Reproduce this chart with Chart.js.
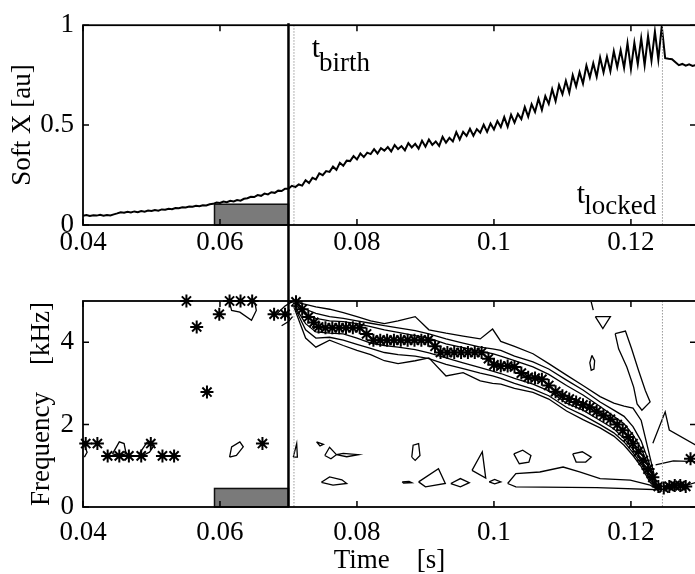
<!DOCTYPE html>
<html>
<head>
<meta charset="utf-8">
<script src="https://cdn.jsdelivr.net/npm/chart.js@4.4.1/dist/chart.umd.min.js"></script>
<style>
  html, body { margin: 0; padding: 0; background: #fff; overflow: hidden; }
  #wrap { position: relative; width: 695px; height: 574px; overflow: hidden; }
  .box { position: absolute; left: 0; width: 760px; }
  #topBox { top: 0; height: 258px; }
  #botBox { top: 258px; height: 316px; }
</style>
</head>
<body>
<div id="wrap">
  <div class="box" id="topBox"><canvas id="softxChart"></canvas></div>
  <div class="box" id="botBox"><canvas id="freqChart"></canvas></div>
</div>
<script>
const FONT = "'Liberation Serif', 'Times New Roman', serif";

// axes
const xMin = 0.04;
const xMax = 0.1295;
const xTicks = [0.04, 0.06, 0.08, 0.1, 0.12];
const xTickLabels = ["0.04", "0.06", "0.08", "0.1", "0.12"];
const softTicks = [0, 0.5, 1];
const softTickLabels = ["0", "0.5", "1"];
const freqTicks = [0, 2, 4];
const freqTickLabels = ["0", "2", "4"];

// event times and the shaded window
const tBirth = 0.07;
const tBirthDots = 0.0708;
const tLocked = 0.1246;
const shadeWindow = [0.0592, 0.07];
const shadeSoftTop = 0.104;
const shadeFreqTop = 0.45;

// soft X signal, sampled every 0.5 ms from 0.04 s
const sxStart = 0.04;
const sxStep = 0.0005;
const sxValues = [
  0.046, 0.050, 0.045, 0.049, 0.047, 0.051, 0.046, 0.050, 0.048, 0.053,
  0.058, 0.064, 0.061, 0.066, 0.063, 0.068, 0.064, 0.070, 0.067, 0.072,
  0.070, 0.075, 0.072, 0.078, 0.076, 0.081, 0.079, 0.085, 0.084, 0.089,
  0.088, 0.093, 0.091, 0.096, 0.094, 0.099, 0.098, 0.104, 0.106, 0.112,
  0.110, 0.117, 0.114, 0.121, 0.118, 0.125, 0.122, 0.131, 0.134, 0.141,
  0.140, 0.150, 0.146, 0.157, 0.153, 0.164, 0.161, 0.172, 0.170, 0.182,
  0.182, 0.196, 0.190, 0.203, 0.197, 0.224, 0.210, 0.236, 0.228, 0.258,
  0.249, 0.270, 0.266, 0.292, 0.276, 0.311, 0.296, 0.322, 0.320, 0.345,
  0.328, 0.358, 0.340, 0.362, 0.355, 0.380, 0.358, 0.384, 0.372, 0.390,
  0.368, 0.400, 0.380, 0.395, 0.374, 0.410, 0.388, 0.406, 0.382, 0.422,
  0.392, 0.428, 0.401, 0.418, 0.396, 0.441, 0.412, 0.436, 0.418, 0.465,
  0.428, 0.466, 0.446, 0.482, 0.447, 0.480, 0.462, 0.502, 0.466, 0.508,
  0.478, 0.520, 0.490, 0.540, 0.492, 0.552, 0.512, 0.556, 0.530, 0.590,
  0.542, 0.605, 0.566, 0.632, 0.576, 0.645, 0.606, 0.680, 0.620, 0.700,
  0.655, 0.722, 0.662, 0.750, 0.694, 0.765, 0.708, 0.798, 0.738, 0.810,
  0.742, 0.838, 0.764, 0.842, 0.770, 0.870, 0.790, 0.875, 0.786, 0.910,
  0.780, 0.912, 0.805, 0.935, 0.800, 0.945, 0.822, 0.968, 0.828, 0.995,
  0.835, 0.832, 0.830, 0.815, 0.800, 0.806, 0.797, 0.804, 0.796, 0.801,
];

// peak frequency markers (*)
const starTimes = [
  0.0404, 0.0421, 0.0436, 0.0453, 0.0467, 0.0485, 0.0499, 0.0516, 0.0533,
  0.0551, 0.0566, 0.0581, 0.0599, 0.0614, 0.0630, 0.0647, 0.0662, 0.0679, 0.0695,
  0.0711, 0.0720, 0.0729, 0.0737, 0.0744, 0.0754, 0.0764, 0.0774, 0.0784, 0.0794,
  0.0804, 0.0814, 0.0824, 0.0834, 0.0844, 0.0854, 0.0864, 0.0874, 0.0884, 0.0894,
  0.0904, 0.0914, 0.0922, 0.0932, 0.0942, 0.0952, 0.0962, 0.0972, 0.0982, 0.0992,
  0.1000, 0.1010, 0.1020, 0.1030, 0.1040, 0.1050, 0.1060, 0.1070, 0.1080, 0.1090,
  0.1100, 0.1110, 0.1120, 0.1130, 0.1140, 0.1150, 0.1160, 0.1170, 0.1180, 0.1188,
  0.1196, 0.1203, 0.1211, 0.1218, 0.1225, 0.1232, 0.1240, 0.1248, 0.1256, 0.1264,
  0.1272, 0.1280, 0.1287,
];
const starFreqs = [
  1.54, 1.54, 1.24, 1.24, 1.24, 1.24, 1.54, 1.24, 1.24,
  5.00, 4.37, 2.79, 4.68, 5.00, 5.00, 5.00, 1.54, 4.68, 4.68,
  4.98, 4.80, 4.61, 4.48, 4.37, 4.35, 4.35, 4.35, 4.35, 4.35,
  4.35, 4.20, 4.05, 4.05, 4.05, 4.05, 4.05, 4.05, 4.05, 4.05,
  4.05, 3.90, 3.75, 3.75, 3.75, 3.75, 3.75, 3.75, 3.75, 3.60,
  3.45, 3.42, 3.42, 3.40, 3.25, 3.15, 3.13, 3.10, 2.95, 2.80,
  2.70, 2.62, 2.55, 2.48, 2.42, 2.32, 2.22, 2.13, 2.00, 1.86,
  1.70, 1.54, 1.35, 1.13, 0.92, 0.72, 0.50, 0.46, 0.50, 0.52,
  0.52, 0.50, 1.17,
];

// main contour band: three nested levels, upper and lower edges
const bandT = [0.0708, 0.0725, 0.0740, 0.0760, 0.0780, 0.0800, 0.0820, 0.0840, 0.0860, 0.0885,
  0.0905, 0.0930, 0.0955, 0.0980, 0.0998, 0.1010, 0.1030, 0.1057, 0.1080, 0.1106,
  0.1130, 0.1155, 0.1175, 0.1190, 0.1203, 0.1215, 0.1228, 0.1238];
const bandU3 = [4.98, 4.92, 4.86, 4.80, 4.72, 4.62, 4.52, 4.45, 4.52, 4.62,
  4.30, 4.22, 4.15, 4.08, 4.32, 4.02, 3.90, 3.72, 3.48, 3.20,
  2.95, 2.68, 2.52, 2.45, 2.40, 2.10, 1.20, 0.50];
const bandU2 = [4.96, 4.80, 4.70, 4.62, 4.58, 4.52, 4.46, 4.40, 4.35, 4.28,
  4.20, 4.08, 3.98, 3.88, 3.84, 3.80, 3.66, 3.52, 3.35, 3.08,
  2.84, 2.55, 2.35, 2.20, 1.95, 1.60, 1.00, 0.48];
const bandU1 = [4.94, 4.68, 4.58, 4.52, 4.50, 4.45, 4.38, 4.30, 4.24, 4.16,
  4.10, 3.96, 3.87, 3.78, 3.72, 3.66, 3.55, 3.40, 3.22, 2.95,
  2.72, 2.44, 2.20, 2.02, 1.75, 1.42, 0.90, 0.46];
const bandL1 = [4.90, 4.45, 4.25, 4.22, 4.20, 4.10, 3.98, 3.92, 3.88, 3.82,
  3.74, 3.62, 3.50, 3.38, 3.30, 3.24, 3.12, 2.98, 2.82, 2.52,
  2.35, 2.10, 1.90, 1.66, 1.40, 1.12, 0.72, 0.44];
const bandL2 = [4.88, 4.30, 4.10, 4.12, 4.05, 3.95, 3.85, 3.75, 3.70, 3.66,
  3.60, 3.46, 3.36, 3.25, 3.18, 3.12, 3.00, 2.86, 2.70, 2.42,
  2.23, 2.00, 1.80, 1.58, 1.32, 1.05, 0.66, 0.43];
const bandL3 = [4.85, 4.10, 3.88, 4.05, 3.92, 3.80, 3.70, 3.55, 3.48, 3.55,
  3.62, 3.18, 3.26, 3.06, 3.00, 2.98, 2.88, 2.78, 2.62, 2.33,
  2.12, 1.92, 1.72, 1.50, 1.25, 0.98, 0.60, 0.42];

// other contour pieces, [time, kHz] pairs
const contourPieces = [
  // tall branch above the band near lock
  [[0.1177, 4.21], [0.1192, 4.27], [0.1201, 3.84], [0.1211, 3.32], [0.1221, 2.83], [0.1228, 2.55],
   [0.1216, 2.35], [0.1209, 2.50], [0.1204, 2.91], [0.1194, 3.40], [0.1182, 3.84], [0.1177, 4.21]],
  [[0.1148, 4.62], [0.1170, 4.62], [0.1159, 4.33], [0.1148, 4.62]],
  [[0.1142, 4.98], [0.1145, 4.78]],
  [[0.1143, 3.68], [0.1147, 3.55], [0.1146, 3.35], [0.1142, 3.32], [0.1140, 3.50], [0.1143, 3.68]],
  // right of lock
  [[0.1232, 1.55], [0.1250, 2.31], [0.1256, 1.87], [0.1299, 1.46]],
  [[0.1236, 1.02], [0.1262, 1.12], [0.1299, 1.10]],
  [[0.1240, 0.42], [0.1270, 0.47], [0.1299, 0.62]],
  // low frequency ridge
  [[0.1020, 0.57], [0.1032, 0.81], [0.1067, 0.85], [0.1101, 0.97], [0.1125, 0.85], [0.1155, 0.69],
   [0.1199, 0.65], [0.1228, 0.53], [0.1240, 0.42], [0.1150, 0.47], [0.1032, 0.49], [0.1020, 0.57]],
  // small islands
  [[0.0707, 1.21], [0.0712, 1.54], [0.0713, 1.21], [0.0707, 1.21]],
  [[0.0741, 1.58], [0.0751, 1.52], [0.0746, 1.48], [0.0741, 1.58]],
  [[0.0753, 1.25], [0.0760, 1.45], [0.0770, 1.27], [0.0762, 1.17], [0.0753, 1.25]],
  [[0.0770, 1.27], [0.0780, 1.30], [0.0802, 1.27], [0.0785, 1.22], [0.0770, 1.27]],
  [[0.0748, 0.60], [0.0760, 0.73], [0.0778, 0.66], [0.0785, 0.57], [0.0765, 0.53], [0.0748, 0.60]],
  [[0.0880, 1.21], [0.0882, 1.50], [0.0890, 1.54], [0.0892, 1.25], [0.0885, 1.13], [0.0880, 1.21]],
  [[0.0866, 0.61], [0.0876, 0.62], [0.0880, 0.59], [0.0868, 0.58], [0.0866, 0.61]],
  [[0.0890, 0.61], [0.0919, 0.93], [0.0929, 0.57], [0.0900, 0.49], [0.0890, 0.61]],
  [[0.0937, 0.57], [0.0951, 0.69], [0.0964, 0.59], [0.0951, 0.49], [0.0937, 0.57]],
  [[0.0968, 0.89], [0.0983, 1.34], [0.0988, 0.70], [0.0968, 0.89]],
  [[0.0993, 0.61], [0.1001, 0.67], [0.1010, 0.61], [0.1001, 0.56], [0.0993, 0.61]],
  [[0.1029, 1.29], [0.1042, 1.38], [0.1054, 1.25], [0.1051, 1.09], [0.1037, 1.05], [0.1029, 1.29]],
  [[0.1115, 1.29], [0.1129, 1.34], [0.1142, 1.21], [0.1134, 1.09], [0.1120, 1.09], [0.1115, 1.29]],
  [[0.0402, 1.50], [0.0406, 1.33], [0.0402, 1.21]],
  [[0.0443, 1.29], [0.0453, 1.58], [0.0460, 1.54], [0.0463, 1.29], [0.0453, 1.25], [0.0443, 1.29]],
  [[0.0482, 1.29], [0.0494, 1.58], [0.0504, 1.50], [0.0497, 1.33], [0.0487, 1.25], [0.0482, 1.29]],
  [[0.0614, 1.21], [0.0617, 1.46], [0.0629, 1.58], [0.0634, 1.46], [0.0624, 1.25], [0.0614, 1.21]],
  [[0.0614, 4.96], [0.0617, 4.77], [0.0629, 4.73], [0.0646, 4.53], [0.0653, 4.77], [0.0651, 4.96]],
  [[0.0683, 4.69], [0.0695, 4.88], [0.0705, 4.98]],
  [[0.0690, 4.40], [0.0700, 4.50], [0.0706, 4.62]],
];

const toPoints = (pairs) => pairs.map(([t, f]) => ({ x: t, y: f }));

const bandLoop = (upper, lower) => {
  const pts = bandT.map((t, i) => ({ x: t, y: upper[i] }));
  for (let i = bandT.length - 1; i >= 0; i--) pts.push({ x: bandT[i], y: lower[i] });
  pts.push(pts[0]);
  return pts;
};

const contourSet = (data) => ({
  data,
  showLine: true,
  borderColor: "#000",
  borderWidth: 1.3,
  pointRadius: 0,
  fill: false,
  tension: 0,
});

const fixedTicks = (values) => (scale) => {
  scale.ticks = values.map((value) => ({ value }));
};

const drawFrame = (chart, yTicks) => {
  const { ctx, chartArea: a, scales: { x, y } } = chart;
  ctx.save();
  ctx.strokeStyle = "#000";
  ctx.lineWidth = 1.8;
  ctx.strokeRect(a.left, a.top, a.right - a.left, a.bottom - a.top);
  ctx.lineWidth = 1.5;
  ctx.beginPath();
  xTicks.forEach((v) => {
    const px = x.getPixelForValue(v);
    ctx.moveTo(px, a.bottom);
    ctx.lineTo(px, a.bottom - 6);
    ctx.moveTo(px, a.top);
    ctx.lineTo(px, a.top + 6);
  });
  yTicks.forEach((v) => {
    const py = y.getPixelForValue(v);
    ctx.moveTo(a.left, py);
    ctx.lineTo(a.left + 6, py);
    ctx.moveTo(a.right, py);
    ctx.lineTo(a.right - 6, py);
  });
  ctx.stroke();
  ctx.restore();
};

const drawShade = (chart, top) => {
  const { ctx, scales: { x, y } } = chart;
  const x0 = x.getPixelForValue(shadeWindow[0]);
  const x1 = x.getPixelForValue(shadeWindow[1]);
  const y0 = y.getPixelForValue(top);
  const y1 = y.getPixelForValue(0);
  ctx.save();
  ctx.fillStyle = "#7a7a7a";
  ctx.fillRect(x0, y0, x1 - x0, y1 - y0);
  ctx.strokeStyle = "#111";
  ctx.lineWidth = 1.5;
  ctx.strokeRect(x0, y0, x1 - x0, y1 - y0);
  ctx.restore();
};

const drawEventLines = (chart, fromY, toY) => {
  const { ctx, chartArea: a, scales: { x } } = chart;
  ctx.save();
  ctx.strokeStyle = "#9a9a9a";
  ctx.lineWidth = 1;
  ctx.setLineDash([1.5, 1.5]);
  [tBirthDots, tLocked].forEach((t) => {
    const px = x.getPixelForValue(t);
    ctx.beginPath();
    ctx.moveTo(px, a.top);
    ctx.lineTo(px, a.bottom);
    ctx.stroke();
  });
  ctx.setLineDash([]);
  ctx.strokeStyle = "#000";
  ctx.lineWidth = 2.5;
  const bx = x.getPixelForValue(tBirth);
  ctx.beginPath();
  ctx.moveTo(bx, fromY);
  ctx.lineTo(bx, toY);
  ctx.stroke();
  ctx.restore();
};

// t_birth / t_locked labels: time, main baseline value, subscript baseline value
const eventLabels = [
  { main: "t", sub: "birth", t: 0.0734, v: 0.841, subV: 0.772 },
  { main: "t", sub: "locked", t: 0.1121, v: 0.112, subV: 0.056 },
];

const drawEventLabels = (chart) => {
  const { ctx, scales: { x, y } } = chart;
  ctx.save();
  ctx.fillStyle = "#000";
  ctx.textBaseline = "alphabetic";
  eventLabels.forEach((l) => {
    const px = x.getPixelForValue(l.t);
    ctx.font = `30px ${FONT}`;
    ctx.fillText(l.main, px, y.getPixelForValue(l.v));
    const w = ctx.measureText(l.main).width;
    ctx.font = `27px ${FONT}`;
    ctx.fillText(l.sub, px + w - 1, y.getPixelForValue(l.subV));
  });
  ctx.restore();
};

const tickFont = { family: FONT, size: 27 };
const titleFont = { family: FONT, size: 27, lineHeight: 1 };

const xScale = (padding, height, title) => ({
  type: "linear",
  min: xMin,
  max: xMax,
  afterBuildTicks: fixedTicks(xTicks),
  afterFit: (s) => { s.height = height; },
  grid: { display: false, drawTicks: false },
  border: { display: false },
  ticks: {
    autoSkip: false,
    maxRotation: 0,
    padding,
    color: "#000",
    font: tickFont,
    callback: (v, i) => xTickLabels[i],
  },
  title: title
    ? { display: true, text: title, color: "#000", font: titleFont, padding: { top: 0, bottom: 0 } }
    : { display: false },
});

const yScale = (min, max, ticks, labels, title, titlePad) => ({
  type: "linear",
  min,
  max,
  afterBuildTicks: fixedTicks(ticks),
  afterFit: (s) => { s.width = 83; },
  grid: { display: false, drawTicks: false },
  border: { display: false },
  ticks: {
    padding: 9,
    color: "#000",
    font: tickFont,
    callback: (v, i) => labels[i],
  },
  title: { display: true, text: title, color: "#000", font: titleFont, padding: { top: titlePad, bottom: 0 } },
});

const commonOptions = {
  responsive: true,
  maintainAspectRatio: false,
  animation: false,
  events: [],
  plugins: { legend: { display: false }, tooltip: { enabled: false } },
};

new Chart(document.getElementById("softxChart"), {
  type: "scatter",
  data: {
    datasets: [
      {
        data: sxValues.map((v, i) => ({ x: sxStart + i * sxStep, y: v })),
        showLine: true,
        borderColor: "#000",
        borderWidth: 2,
        pointRadius: 0,
        tension: 0,
      },
    ],
  },
  options: {
    ...commonOptions,
    layout: { padding: { left: 0, right: 64, top: 17, bottom: 0 } },
    scales: {
      x: xScale(2, 33),
      y: yScale(0, 1, softTicks, softTickLabels, "Soft X [au]", 9.5),
    },
  },
  plugins: [
    {
      id: "softxDecor",
      beforeDatasetsDraw: (chart) => drawShade(chart, shadeSoftTop),
      afterDatasetsDraw: (chart) => {
        drawEventLines(chart, chart.chartArea.top - 2, chart.height);
        drawFrame(chart, softTicks);
        drawEventLabels(chart);
      },
    },
  ],
});

new Chart(document.getElementById("freqChart"), {
  type: "scatter",
  data: {
    datasets: [
      contourSet(bandLoop(bandU3, bandL3)),
      contourSet(bandLoop(bandU2, bandL2)),
      contourSet(bandLoop(bandU1, bandL1)),
      ...contourPieces.map((p) => contourSet(toPoints(p))),
      {
        data: starTimes.map((t, i) => ({ x: t, y: starFreqs[i] })),
        pointStyle: "star",
        pointRadius: 6.5,
        borderColor: "#000",
        backgroundColor: "#000",
        borderWidth: 2,
        clip: false,
      },
    ],
  },
  options: {
    ...commonOptions,
    layout: { padding: { left: 0, right: 64, top: 43, bottom: 0 } },
    scales: {
      x: xScale(10, 67, "Time    [s]"),
      y: yScale(0, 5, freqTicks, freqTickLabels, "Frequency    [kHz]", 28.5),
    },
  },
  plugins: [
    {
      id: "freqDecor",
      beforeDatasetsDraw: (chart) => drawShade(chart, shadeFreqTop),
      afterDatasetsDraw: (chart) => {
        drawEventLines(chart, 0, chart.chartArea.bottom);
        drawFrame(chart, freqTicks);
      },
    },
  ],
});
</script>
</body>
</html>
